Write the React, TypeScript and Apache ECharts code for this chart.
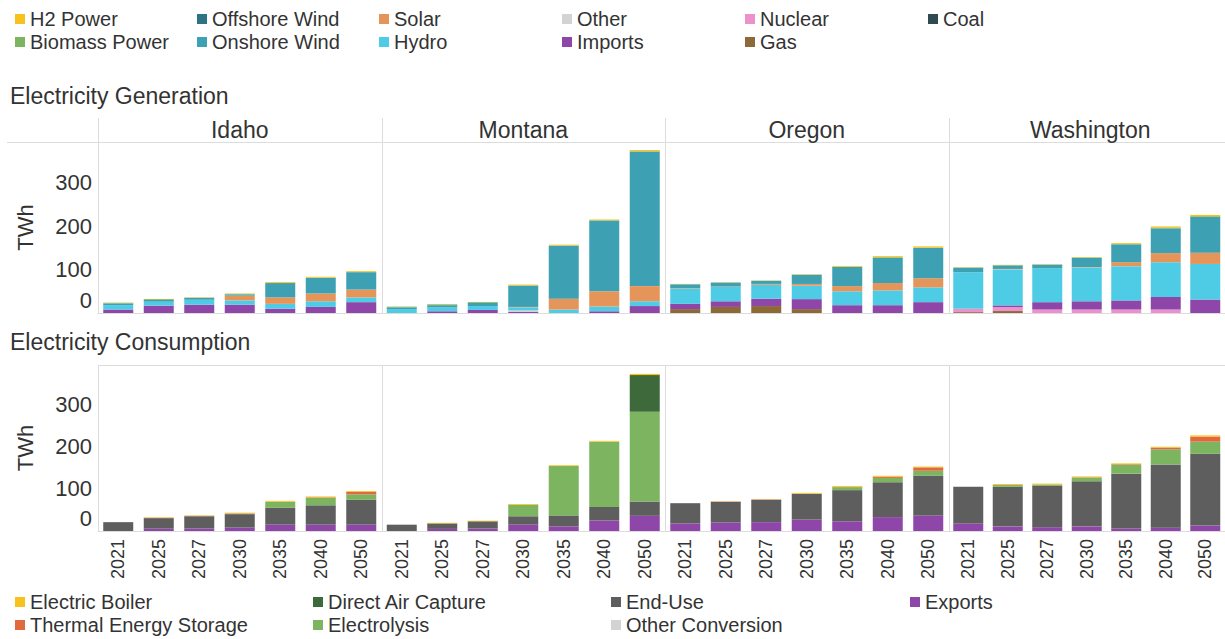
import React, { useEffect, useRef } from "react";
import * as echarts from "echarts";

const years = ["2021", "2025", "2027", "2030", "2035", "2040", "2050"];
const states = ["Idaho", "Montana", "Oregon", "Washington"];
const yTicks = [0, 100, 200, 300];

// Generation technologies, stacked bottom -> top
const genTechs = ["Coal", "Gas", "Nuclear", "Imports", "Other", "Hydro", "Solar", "Onshore Wind", "Offshore Wind", "Biomass Power", "H2 Power"];
const genColors: Record<string, string> = {
  "H2 Power": "#F7C21E",
  "Biomass Power": "#7DB460",
  "Offshore Wind": "#2D7482",
  "Onshore Wind": "#3DA1B3",
  "Solar": "#E6955A",
  "Hydro": "#4ECCE5",
  "Other": "#D3D3D3",
  "Imports": "#8F46A9",
  "Nuclear": "#EE90CC",
  "Gas": "#8C6937",
  "Coal": "#2F4A50",
};

const idahoGen: Record<string, number[]> = {
  "Imports": [8, 17, 19, 19, 10, 14, 25],
  "Hydro": [10, 9, 11, 10, 11, 13, 11],
  "Solar": [0, 0, 0.5, 11, 15, 18, 18],
  "Onshore Wind": [4, 4, 4, 3, 33, 36, 40],
  "Biomass Power": [1.5, 2, 1, 1, 0.5, 0.5, 0.5],
  "H2 Power": [0.5, 0.5, 0.5, 1, 2, 2, 2],
};
const montanaGen: Record<string, number[]> = {
  "Imports": [0, 4, 7, 3, 0, 4, 16],
  "Other": [0, 0, 0, 3, 0, 0, 0],
  "Hydro": [9, 9, 9, 7, 8, 11, 11],
  "Solar": [0, 0, 0, 1, 25, 35, 35],
  "Onshore Wind": [4, 5, 7, 49, 122, 163, 310],
  "Biomass Power": [1.5, 2, 2, 0.5, 0.5, 0.5, 0.5],
  "H2 Power": [0.3, 0.5, 0.5, 2, 2, 2, 3],
};
const oregonGen: Record<string, number[]> = {
  "Gas": [9, 14, 16, 9, 0, 0, 0],
  "Imports": [12, 13, 17, 23, 18, 18, 25],
  "Hydro": [35, 33, 32, 31, 32, 34, 34],
  "Solar": [1, 1, 2, 4, 12, 17, 21],
  "Onshore Wind": [9, 9, 7, 21, 44, 58, 70],
  "Biomass Power": [0.5, 0.5, 0.5, 0.5, 0.5, 1.5, 0.5],
  "H2 Power": [0.5, 0.5, 0.5, 1, 2, 2.5, 3],
};
const washingtonGen: Record<string, number[]> = {
  "Gas": [2, 4.5, 0, 0, 0, 0, 0],
  "Nuclear": [8, 9, 8, 8, 8, 8, 0],
  "Imports": [0, 4, 17, 19, 21, 29, 31],
  "Hydro": [84, 83, 78, 78, 79, 80, 82],
  "Solar": [0, 1, 0, 1, 9, 21, 26],
  "Onshore Wind": [10, 8, 8, 21, 41, 57, 82],
  "Biomass Power": [1, 1, 1, 1, 1, 1.5, 2],
  "H2 Power": [0.5, 0.5, 0.5, 1, 2, 3, 3],
};

// Consumption, stacked bottom -> top
const conTechs = ["Exports", "Other Conversion", "End-Use", "Electrolysis", "Direct Air Capture", "Thermal Energy Storage", "Electric Boiler"];
const conColors: Record<string, string> = {
  "Electric Boiler": "#F7C21E",
  "Thermal Energy Storage": "#E0693F",
  "Direct Air Capture": "#3E6A3B",
  "Electrolysis": "#7DB460",
  "End-Use": "#5E5E5E",
  "Other Conversion": "#D3D3D3",
  "Exports": "#8F46A9",
};

const idahoCon: Record<string, number[]> = {
  "Exports": [0, 5.5, 6, 8, 15, 15, 15],
  "End-Use": [21, 25, 29, 32, 40, 46, 59],
  "Electrolysis": [0, 0, 0, 1, 14, 18, 13],
  "Thermal Energy Storage": [0, 1, 1, 1, 0.5, 1, 6],
  "Electric Boiler": [0, 1, 1, 1.5, 2, 2, 2],
};
const montanaCon: Record<string, number[]> = {
  "Exports": [0, 5, 6, 15, 11, 25, 36],
  "End-Use": [15, 13, 17, 20, 26, 32, 34],
  "Electrolysis": [0, 0, 0, 27, 117, 155, 213],
  "Direct Air Capture": [0, 0, 0, 0, 0, 0, 87],
  "Electric Boiler": [0, 1.5, 1.5, 2, 2, 2, 3],
};
const oregonCon: Record<string, number[]> = {
  "Exports": [18, 20, 21, 27, 23, 33, 37],
  "End-Use": [48, 49, 53, 61, 74, 83, 94],
  "Electrolysis": [0, 0, 0, 0, 7, 10, 12],
  "Thermal Energy Storage": [0, 1, 1, 0.5, 1, 3, 8],
  "Electric Boiler": [0, 0.5, 0.5, 2, 2, 2, 2],
};
const washingtonCon: Record<string, number[]> = {
  "Exports": [18, 11, 9, 11, 6, 8, 13],
  "End-Use": [87, 94, 98, 107, 130, 150, 170],
  "Electrolysis": [0, 4, 3, 9, 21, 36, 29],
  "Thermal Energy Storage": [0, 0.5, 0.5, 0.5, 1.5, 4, 12],
  "Electric Boiler": [0, 2, 2, 2, 2, 2, 3],
};

const genByState = [idahoGen, montanaGen, oregonGen, washingtonGen];
const conByState = [idahoCon, montanaCon, oregonCon, washingtonCon];

const topLegendCols = [
  ["H2 Power", "Biomass Power"],
  ["Offshore Wind", "Onshore Wind"],
  ["Solar", "Hydro"],
  ["Other", "Imports"],
  ["Nuclear", "Gas"],
  ["Coal"],
];
const bottomLegendCols = [
  ["Electric Boiler", "Thermal Energy Storage"],
  ["Direct Air Capture", "Electrolysis"],
  ["End-Use", "Other Conversion"],
  ["Exports"],
];

const FONT = "'Liberation Sans', Arial, Helvetica, sans-serif";
const TXT = "#333333";
const LINE = "#DCDCDC";

export default function App() {
  const ref = useRef<HTMLDivElement>(null);
  useEffect(() => {
    if (!ref.current) return;
    const chart = echarts.init(ref.current, undefined, { renderer: "svg" });

    const panelLeft = [98, 381.5, 665, 948.5];
    const panelW = 283.5;
    const topY = 142, topH = 171;
    const botY = 365, botH = 166;
    const yMax = 394;

    const grids: any[] = [];
    const xAxes: any[] = [];
    const yAxes: any[] = [];
    const series: any[] = [];

    for (let row = 0; row < 2; row++) {
      for (let p = 0; p < 4; p++) {
        const idx = row * 4 + p;
        grids.push({ left: panelLeft[p], width: panelW, top: row === 0 ? topY : botY, height: row === 0 ? topH : botH, containLabel: false });
        xAxes.push({
          type: "category", gridIndex: idx, data: years,
          axisLine: { show: true, lineStyle: { color: LINE, width: 1 } },
          axisTick: { show: false },
          axisLabel: row === 1 ? { show: true, rotate: 90, margin: 8, fontSize: 18, color: TXT, fontFamily: FONT } : { show: false },
        });
        yAxes.push({
          type: "value", gridIndex: idx, min: 0, max: yMax, interval: 100,
          show: p === 0,
          name: p === 0 ? "TWh" : "",
          nameLocation: "middle", nameGap: 62, nameRotate: 90,
          nameTextStyle: { fontSize: 22, color: TXT, fontFamily: FONT },
          axisLine: { show: false }, axisTick: { show: false }, splitLine: { show: false },
          axisLabel: {
            show: p === 0, margin: 6, fontSize: 22, color: TXT, fontFamily: FONT,
            formatter: (v: number) => (yTicks.indexOf(v) < 0 ? "" : v === 0 ? "{z|0}" : String(v)),
            rich: { z: { fontSize: 22, color: TXT, fontFamily: FONT, padding: [0, 0, 26, 0] } },
          },
        });
        const techs = row === 0 ? genTechs : conTechs;
        const colors = row === 0 ? genColors : conColors;
        const data = row === 0 ? genByState[p] : conByState[p];
        techs.forEach((t) => {
          series.push({
            type: "bar", name: t, xAxisIndex: idx, yAxisIndex: idx,
            stack: "s" + idx, barWidth: 30,
            itemStyle: { color: colors[t] },
            data: data[t] ? data[t] : years.map(() => 0),
          });
        });
      }
    }

    const legends: any[] = [];
    const topX = [15, 197, 379, 562, 745, 928];
    topLegendCols.forEach((names, i) => {
      legends.push({
        orient: "vertical", left: topX[i], top: 9, padding: 0, itemGap: 3,
        itemWidth: 10, itemHeight: 10, icon: "rect", selectedMode: false,
        textStyle: { fontSize: 20, color: TXT, fontFamily: FONT, lineHeight: 20 },
        data: names,
      });
    });
    const botX = [15, 313, 611, 910];
    bottomLegendCols.forEach((names, i) => {
      legends.push({
        orient: "vertical", left: botX[i], top: 592, padding: 0, itemGap: 3,
        itemWidth: 10, itemHeight: 10, icon: "rect", selectedMode: false,
        textStyle: { fontSize: 20, color: TXT, fontFamily: FONT, lineHeight: 20 },
        data: names,
      });
    });

    const graphic: any[] = [];
    const ln = (x1: number, y1: number, x2: number, y2: number) => ({
      type: "line", silent: true, z: 0,
      shape: { x1, y1, x2, y2 }, style: { stroke: LINE, lineWidth: 1 },
    });
    graphic.push(ln(7, 142.5, 1225, 142.5));
    graphic.push(ln(98, 365.5, 1225, 365.5));
    panelLeft.forEach((x) => {
      const xx = Math.round(x) + 0.5;
      graphic.push(ln(xx, 118, xx, topY + topH));
      graphic.push(ln(xx, botY, xx, botY + botH));
    });
    states.forEach((s, i) => {
      graphic.push({
        type: "text", silent: true,
        x: panelLeft[i] + panelW / 2, y: 130,
        style: { text: s, fontSize: 23, fill: TXT, fontFamily: FONT, textAlign: "center", textVerticalAlign: "middle" },
      });
    });
    graphic.push({
      type: "text", silent: true, x: 10, y: 96,
      style: { text: "Electricity Generation", fontSize: 23, fill: TXT, fontFamily: FONT, textAlign: "left", textVerticalAlign: "middle" },
    });
    graphic.push({
      type: "text", silent: true, x: 10, y: 342,
      style: { text: "Electricity Consumption", fontSize: 23, fill: TXT, fontFamily: FONT, textAlign: "left", textVerticalAlign: "middle" },
    });

    chart.setOption({
      animation: false,
      backgroundColor: "#ffffff",
      textStyle: { fontFamily: FONT },
      legend: legends,
      grid: grids,
      xAxis: xAxes,
      yAxis: yAxes,
      series,
      graphic,
    });
    return () => chart.dispose();
  }, []);

  return <div ref={ref} style={{ position: "fixed", left: 0, top: 0, width: 1225, height: 639 }} />;
}
